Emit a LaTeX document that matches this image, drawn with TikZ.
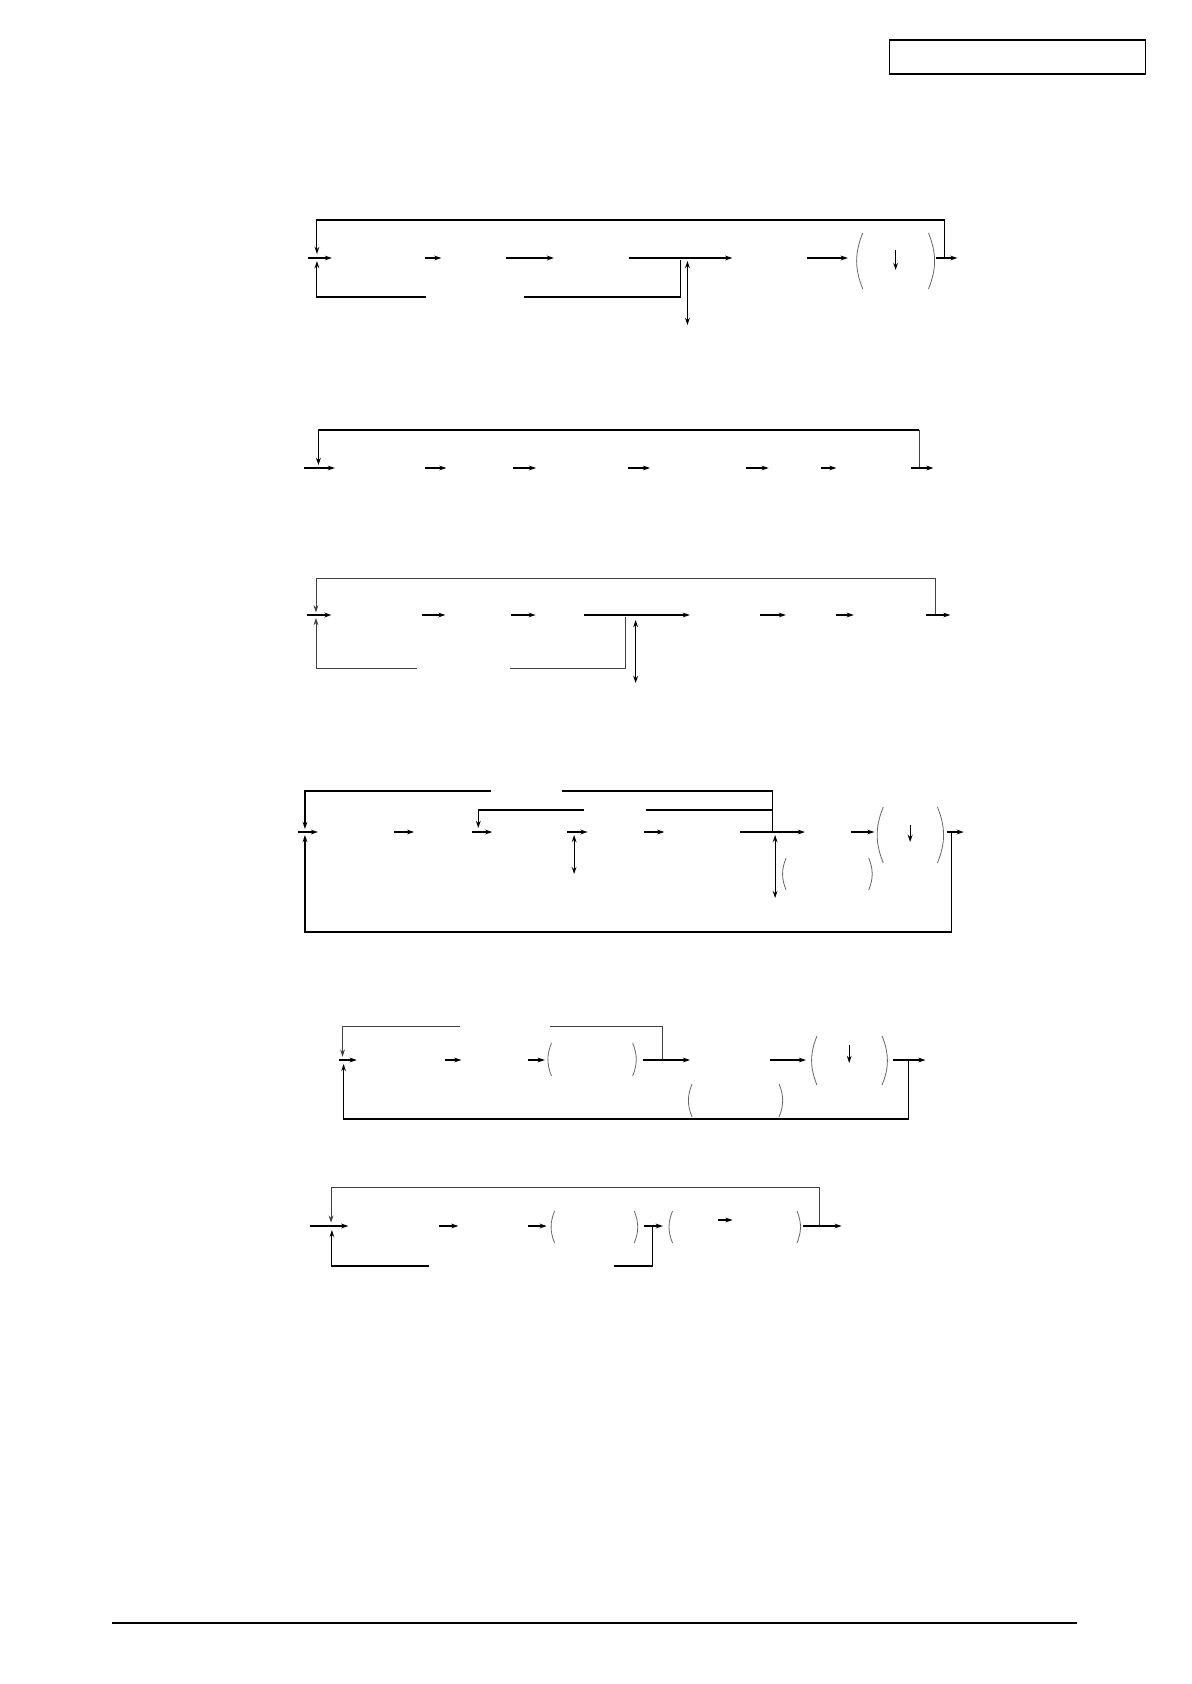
\documentclass[tikz,border=0pt]{standalone}
\usetikzlibrary{arrows.meta}
\tikzset{
  ln/.style={line width=0.55pt, black},
  thn/.style={line width=0.4pt, black!75},
  ar/.style={-{Stealth[length=3.6pt,width=2.4pt]}},
  dar/.style={{Stealth[length=3.6pt,width=2.4pt]}-{Stealth[length=3.6pt,width=2.4pt]}},
  parl/.style={line width=0.4pt, black!60, bend right=22},
  parr/.style={line width=0.4pt, black!60, bend left=22}
}
\begin{document}
\begin{tikzpicture}[x=0.5pt,y=-0.5pt]
\useasboundingbox (0,0) rectangle (1191,1684);
\begin{scope}[xscale=0.9956, xshift=-0.8pt]
% header box and footer rule
\draw[line width=0.8pt] (895,40) rectangle (1152,74);
\draw[line width=0.8pt] (114,1623) -- (1083,1623);
\end{scope}
\begin{scope}[xscale=0.996, xshift=0.6pt]
% ---------------- Row 1 ----------------
\draw[ln,ar] (947,258) -- (947,220) -- (317,220) -- (317,254);
\draw[ln,ar] (308,258) -- (332,258);
\draw[ln,ar] (427,297) -- (317,297) -- (317,261);
\draw[ln] (525,297) -- (682,297) -- (682,260);
\draw[ln,ar] (425,258) -- (442,258);
\draw[ln,ar] (507,258) -- (555,258);
\draw[ln,ar] (630,258) -- (734,258);
\draw[ln,ar] (809,258) -- (850,258);
\draw[ln,dar] (689,261) -- (689,325);
\draw[parl] (865,233) to (865,289);
\draw[parr] (931,233) to (931,289);
\draw[ln,ar] (898,250) -- (898,270);
\draw[ln,ar] (939,258) -- (960,258);

% ---------------- Row 2 ----------------
\draw[thn] (921.5,468) -- (921.5,430);
\draw[ln,ar] (921.5,430) -- (318.5,430) -- (318.5,465);
\draw[ln,ar] (304,468) -- (335,468);
\draw[ln,ar] (425,468) -- (447,468);
\draw[ln,ar] (514,468) -- (537,468);
\draw[ln,ar] (629,468) -- (651.5,468);
\draw[ln,ar] (747.5,468) -- (770.5,468);
\draw[ln,ar] (823,468) -- (838.5,468);
\draw[ln,ar] (913,468) -- (936,468);

% ---------------- Row 3 ----------------
\draw[thn,ar] (937.7,615) -- (937.7,578) -- (316,578) -- (316,612.5);
\draw[ln,ar] (307,615) -- (331.6,615);
\draw[thn,ar] (417,668) -- (316,668) -- (316,618);
\draw[thn] (511,668) -- (627,668) -- (627,617);
\draw[ln,ar] (422,615) -- (446,615);
\draw[ln,ar] (512,615) -- (536.6,615);
\draw[ln,ar] (585,615) -- (691.4,615);
\draw[ln,ar] (762.3,615) -- (787.8,615);
\draw[ln,ar] (838.5,615) -- (856,615);
\draw[ln,ar] (929,615) -- (953,615);
\draw[ln,dar] (637,620) -- (637,683);

% ---------------- Row 4 ----------------
\draw[ln,ar] (492,791) -- (305,791) -- (305,829);
\draw[ln] (563.5,791) -- (774.4,791) -- (774.4,832);
\draw[ln,ar] (585,810) -- (479,810) -- (479,828);
\draw[ln] (647,810) -- (774.4,810);
\draw[ln,ar] (298,832) -- (318,832);
\draw[ln,ar] (394.4,832) -- (414.6,832);
\draw[ln,ar] (473,832) -- (493,832);
\draw[ln,ar] (568.5,832) -- (588.7,832);
\draw[ln,ar] (645.6,832) -- (665.8,832);
\draw[ln,ar] (742,832) -- (807,832);
\draw[ln,ar] (853,832) -- (876.7,832);
\draw[ln,dar] (575.2,835) -- (575.2,874);
\draw[ln,dar] (777,835) -- (777,898);
\draw[parl] (788,858) to (788,890);
\draw[parr] (871,858) to (871,890);
\draw[parl] (885.6,807) to (885.6,863);
\draw[parr] (940,807) to (940,863);
\draw[ln,ar] (912.6,825) -- (912.6,842);
\draw[ln,ar] (949.4,832) -- (966.4,832);
\draw[ln,ar] (954.3,832) -- (954.3,932) -- (305,932) -- (305,835);

% ---------------- Row 5 ----------------
\draw[thn,ar] (461,1026) -- (342.7,1026) -- (342.7,1056.7);
\draw[thn] (550.5,1026) -- (664.2,1026) -- (664.2,1060);
\draw[ln,ar] (338.7,1060) -- (357,1060);
\draw[ln,ar] (445.2,1060) -- (462,1060);
\draw[ln,ar] (528.7,1060) -- (545.8,1060);
\draw[ln,ar] (644,1060) -- (691.6,1060);
\draw[ln,ar] (772.3,1060) -- (808,1060);
\draw[ln,ar] (895,1060) -- (928,1060);
\draw[parl] (552.5,1043) to (552.5,1076);
\draw[parr] (634,1043) to (634,1076);
\draw[parl] (819,1036) to (819,1085);
\draw[parr] (884.4,1036) to (884.4,1085);
\draw[parl] (693.6,1084) to (693.6,1117);
\draw[parr] (781,1084) to (781,1117);
\draw[ln,ar] (851.4,1045) -- (851.4,1063);
\draw[ln,ar] (910.6,1060) -- (910.6,1119) -- (343.8,1119) -- (343.8,1064);

% ---------------- Row 6 ----------------
\draw[thn,ar] (821.5,1226) -- (821.5,1187) -- (331.2,1187) -- (331.2,1222.7);
\draw[ln,ar] (310,1226) -- (348.5,1226);
\draw[ln,ar] (439.6,1226) -- (459,1226);
\draw[ln,ar] (528.6,1226) -- (547.7,1226);
\draw[ln,ar] (645.3,1226) -- (664.3,1226);
\draw[ln,ar] (720,1220) -- (734.3,1220);
\draw[ln,ar] (805.4,1226) -- (843.8,1226);
\draw[ln,ar] (429.2,1266) -- (332,1266) -- (332,1230);
\draw[ln] (614.8,1266) -- (653.6,1266) -- (653.6,1226);
\draw[parl] (555.6,1211) to (555.6,1243);
\draw[parr] (635.6,1211) to (635.6,1243);
\draw[parl] (674,1211) to (674,1243);
\draw[parr] (799,1211) to (799,1243);
\end{scope}
\end{tikzpicture}
\end{document}
